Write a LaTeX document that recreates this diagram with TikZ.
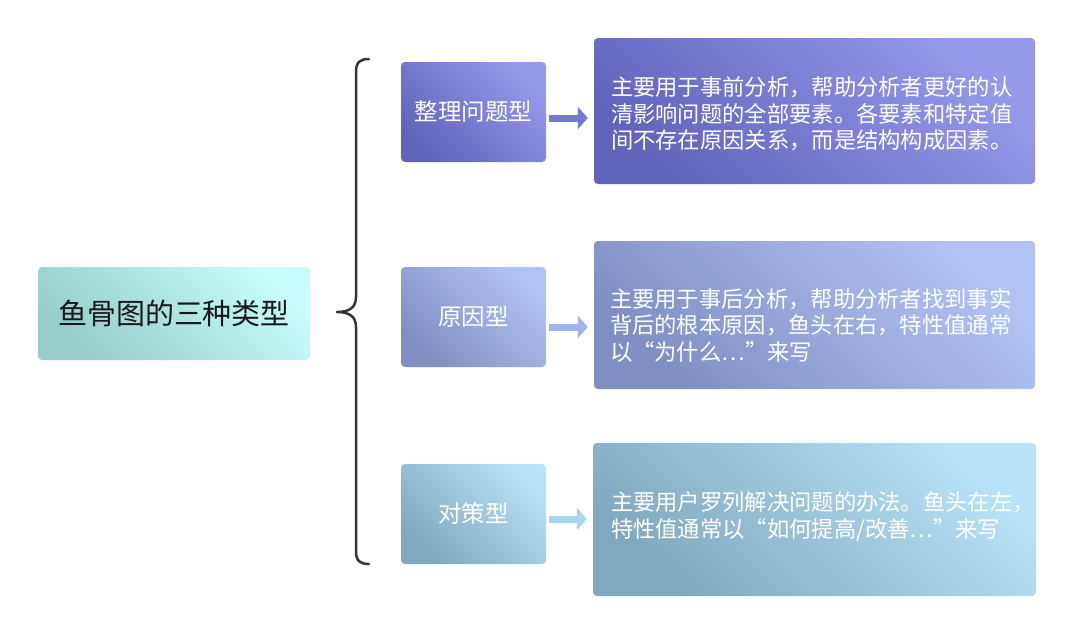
\documentclass[tikz,border=0pt]{standalone}
\usepackage{fontspec}
\setmainfont{Noto Sans CJK SC}
\usetikzlibrary{arrows.meta}
\definecolor{tA}{HTML}{97CEC9}\definecolor{tB}{HTML}{C7FCF8}
\definecolor{pA}{HTML}{6264BC}\definecolor{pB}{HTML}{9698EA}
\definecolor{mA}{HTML}{7F8FC2}\definecolor{mB}{HTML}{B1C3F3}
\definecolor{cA}{HTML}{80A8BF}\definecolor{cB}{HTML}{B8E2F7}
\definecolor{ar1}{HTML}{7679D0}\definecolor{ar2}{HTML}{9FB4EC}\definecolor{ar3}{HTML}{A3D7F2}
\definecolor{brc}{HTML}{333333}
\newcommand{\lowtxt}[1]{\lower3pt\hbox{#1}}
\tikzset{
  grad/.style 2 args={rectangle, rounded corners=4pt, top color=#2, bottom color=#1, shading angle=-45, inner sep=0pt},
  catbox/.style={text=white, font=\fontsize{23.5}{28}\selectfont, minimum width=145pt, minimum height=100pt},
  descbox/.style={minimum width=441pt, minimum height=147pt},
  desctext/.style={text=white, font=\fontsize{22.3}{26.6}\selectfont, align=left, inner sep=0pt, anchor=west},
  conn/.style={line width=7pt, -{Triangle[length=10pt,width=22pt]}, shorten <=3pt, shorten >=6pt},
  bracestyle/.style={draw=brc, line width=2.5pt, line cap=round, line join=round}
}
\begin{document}
\begin{tikzpicture}[x=1pt,y=-1pt]
\useasboundingbox (0,0) rectangle (1080,635);
\node[grad={tA}{tB}, minimum width=272pt, minimum height=93pt, text=black!90, font=\fontsize{29}{34}\selectfont] (title) at (174,313.5) {\lowtxt{鱼骨图的三种类型}};

\node[grad={pA}{pB}, catbox] (b1) at (473.5,112) {\lowtxt{整理问题型}};
\node[grad={mA}{mB}, catbox] (b2) at (473.5,317) {\lowtxt{原因型}};
\node[grad={cA}{cB}, catbox] (b3) at (473.5,514) {\lowtxt{对策型}};

\node[grad={pA}{pB}, descbox, minimum height=146pt] (d1) at (814.5,111) {};
\node[grad={mA}{mB}, descbox, minimum height=148pt] (d2) at (814.5,315) {};
\node[grad={cA}{cB}, descbox, minimum width=443pt, minimum height=153pt] (d3) at (814.5,519.5) {};

\node[desctext] (t1) at ([xshift=17pt,yshift=-3pt]d1.west) {主要用于事前分析，帮助分析者更好的认\\清影响问题的全部要素。各要素和特定值\\间不存在原因关系，而是结构构成因素。};
\node[desctext] (t2) at ([xshift=16pt,yshift=-10.5pt]d2.west) {主要用于事后分析，帮助分析者找到事实\\背后的根本原因，鱼头在右，特性值通常\\以“为什么⋯”来写};
\node[desctext] (t3) at ([xshift=18pt,yshift=3pt]d3.west) {主要用户罗列解决问题的办法。鱼头在左，\\特性值通常以“如何提高/改善⋯”来写};

\draw[conn, ar1] ([yshift=-6pt]b1.east) -- ([yshift=-6pt]b1.east -| d1.west);
\draw[conn, ar2] ([yshift=-10pt]b2.east) -- ([yshift=-10pt]b2.east -| d2.west);
\draw[conn, ar3] ([yshift=-5pt]b3.east) -- ([yshift=-5pt]b3.east -| d3.west);

\draw[bracestyle] (369,59) .. controls (360,59) and (356,62) .. (356,72) -- (356,297)
  .. controls (356,307) and (350,312) .. (337,312)
  .. controls (350,312) and (356,317) .. (356,327) -- (356,551)
  .. controls (356,561) and (360,564) .. (369,564);
\end{tikzpicture}
\end{document}
